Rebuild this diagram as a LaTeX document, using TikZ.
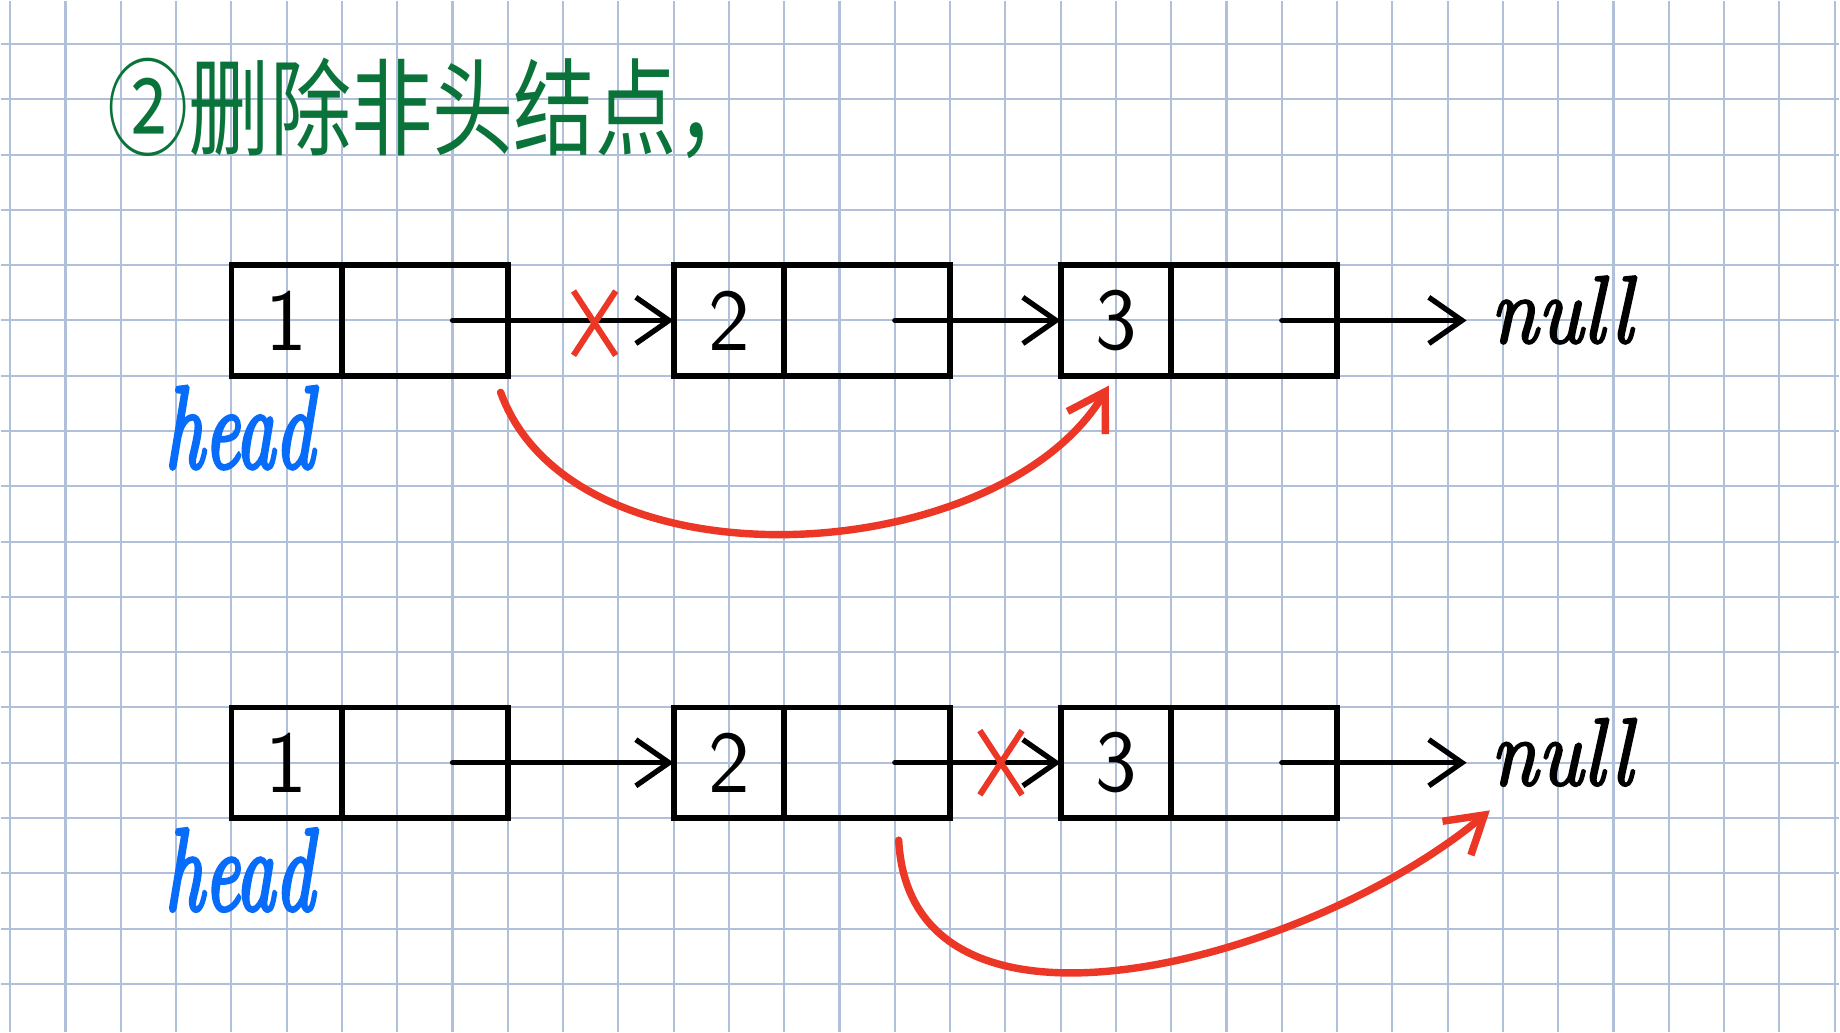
\documentclass[tikz,border=0pt]{standalone}
\usepackage{fontspec}
\usepackage{tikz}
\usetikzlibrary{arrows.meta, positioning, shapes.misc}
\newfontfamily\cjkfont{Noto Sans CJK SC}
\newfontfamily\handfont{lmroman10-italic}[Extension=.otf, FakeBold=2.5]
\newfontfamily\headfont{lmroman10-italic}[Extension=.otf, FakeBold=3.5]
\definecolor{gridblue}{RGB}{176,192,218}
\definecolor{penred}{RGB}{236,55,38}
\definecolor{pengreen}{RGB}{10,115,58}
\definecolor{penblue}{RGB}{8,108,250}

\begin{document}
\begin{tikzpicture}[
    x=0.55cm, y=0.55cm,
    node distance=0pt and 1.65cm,
    val/.style={draw, line width=1.6pt, inner sep=0pt, outer sep=0pt, minimum width=1.1cm, minimum height=1.1cm, font=\sffamily\fontsize{25}{25}\selectfont},
    ptr/.style={val, minimum width=1.65cm},
    arr/.style={line width=1.5pt, line cap=round, -{Straight Barb[length=3.3mm, width=4.6mm]}},
    relink/.style={penred, line width=2.1pt, line cap=round, -{Straight Barb[length=3.6mm, width=4.4mm]}},
    cutmark/.style={cross out, draw=penred, line width=1.7pt, minimum width=0.36cm, minimum height=0.58cm, inner sep=0pt},
    headlbl/.style={anchor=base west, inner sep=0pt, text=penblue, font=\headfont\fontsize{33}{33}\selectfont},
    nulllbl/.style={anchor=base west, inner xsep=0.29cm, inner ysep=0pt, font=\handfont\fontsize{27}{27}\selectfont},
  ]
    \fill[white] (-0.166,0.777) rectangle (33.077,-17.868);
    \draw[gridblue, line width=0.6pt, step=1] (-0.166,-17.868) grid (33.077,0.777);
    \useasboundingbox (-0.166,0.777) rectangle (33.077,-17.868);

    \node[anchor=west, inner sep=0pt, text=pengreen, font=\cjkfont\fontsize{23}{23}\selectfont] (title) at (1.75,-1.16) {\scalebox{1}[1.3]{②删除非头结点，}};

    % before
    \node[val] (v1) at (5,-5) {1};
    \node[ptr, right=0pt of v1] (p1) {};
    \node[val, right=of p1] (v2) {2};
    \node[ptr, right=0pt of v2] (p2) {};
    \node[val, right=1.1cm of p2] (v3) {3};
    \node[ptr, right=0pt of v3] (p3) {};
    \node[nulllbl] (n1) at (26.343,-5.40) {\hspace*{-0.06cm}\scalebox{0.88}[1]{null}};
    \node[headlbl] (h1) at ([shift={(-1.22,-1.66)}]v1.south west) {\scalebox{0.66}[1]{head}};

    % after
    \node[val, below=3.3cm of v1] (v4) {1};
    \node[ptr, right=0pt of v4] (p4) {};
    \node[val, right=of p4] (v5) {2};
    \node[ptr, right=0pt of v5] (p5) {};
    \node[val, right=1.1cm of p5] (v6) {3};
    \node[ptr, right=0pt of v6] (p6) {};
    \node[nulllbl] (n2) at (26.343,-13.40) {\hspace*{-0.06cm}\scalebox{0.88}[1]{null}};
    \node[headlbl] (h2) at ([shift={(-1.22,-1.66)}]v4.south west) {\scalebox{0.66}[1]{head}};

    \draw[arr] ([xshift=-0.55cm]p1.east) -- (v2.west);
    \draw[arr] ([xshift=-0.55cm]p2.east) -- (v3.west);
    \draw[arr] ([xshift=-0.55cm]p3.east) -- (n1.west |- p3.east);
    \draw[arr] ([xshift=-0.55cm]p4.east) -- (v5.west);
    \draw[arr] ([xshift=-0.55cm]p5.east) -- (v6.west);
    \draw[arr] ([xshift=-0.55cm]p6.east) -- (n2.west |- p6.east);

    \node[cutmark] (x1) at (10.57,-5.05) {};
    \node[cutmark] (x2) at (17.92,-13) {};

    \draw[relink] ([shift={(-0.13,-0.30)}]p1.south east) to[out=-70, in=-121, looseness=0.9] ([shift={(-0.13,-0.18)}]v3.south);
    \draw[relink] ([shift={(-0.93,-0.40)}]p5.south east) to[out=-87, in=-140] ([shift={(0.42,-0.43)}]n2.south west);
  \end{tikzpicture}
\end{document}
